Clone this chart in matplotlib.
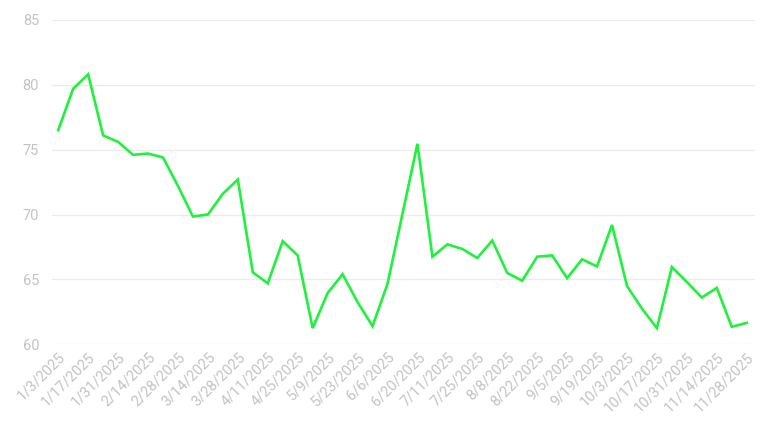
import matplotlib
matplotlib.use('Agg')
import matplotlib.pyplot as plt

plt.rcParams['font.family'] = ['Roboto', 'DejaVu Sans']

# weekly dates (no 7/4 entry)
dates = ['1/3/2025', '1/10/2025', '1/17/2025', '1/24/2025', '1/31/2025', '2/7/2025',
         '2/14/2025', '2/21/2025', '2/28/2025', '3/7/2025', '3/14/2025', '3/21/2025',
         '3/28/2025', '4/4/2025', '4/11/2025', '4/18/2025', '4/25/2025', '5/2/2025',
         '5/9/2025', '5/16/2025', '5/23/2025', '5/30/2025', '6/6/2025', '6/13/2025',
         '6/20/2025', '6/27/2025', '7/11/2025', '7/18/2025', '7/25/2025', '8/1/2025',
         '8/8/2025', '8/15/2025', '8/22/2025', '8/29/2025', '9/5/2025', '9/12/2025',
         '9/19/2025', '9/26/2025', '10/3/2025', '10/10/2025', '10/17/2025', '10/24/2025',
         '10/31/2025', '11/7/2025', '11/14/2025', '11/21/2025', '11/28/2025']

values = [76.5, 79.7, 80.8, 76.1, 75.6, 74.6, 74.7, 74.4, 72.2, 69.85,
          70.0, 71.6, 72.7, 65.55, 64.7, 67.95, 66.85, 61.25, 63.95, 65.4,
          63.25, 61.4, 64.65, 70.05, 75.45, 66.75, 67.7, 67.35, 66.65, 68.0,
          65.5, 64.9, 66.75, 66.85, 65.1, 66.55, 66.0, 69.2, 64.5, 62.75,
          61.25, 65.95, 64.8, 63.6, 64.35, 61.35, 61.65]

yticks = [60, 65, 70, 75, 80, 85]

fig = plt.figure(figsize=(7.68, 4.32), dpi=100)
ax = fig.add_axes([0.068, 0.203, 0.915, 0.751])

x = list(range(len(dates)))
ax.plot(x, values, color='#1ef23c', linewidth=1.9, solid_joinstyle='miter')

ax.set_xlim(-0.4, len(dates) - 0.45)
ax.set_ylim(60, 85)
ax.set_yticks(yticks)
ax.set_xticks(x[::2])
ax.set_xticklabels(dates[::2], rotation=45, ha='right', rotation_mode='anchor')

ax.grid(axis='y', color='#ebebeb', linewidth=0.9)
ax.set_axisbelow(True)
for s in ax.spines.values():
    s.set_visible(False)
ax.tick_params(length=0, colors='#c3c3c3', labelsize=10.5)
ax.tick_params(axis='y', pad=9.5)
ax.tick_params(axis='x', pad=4)

fig.savefig('out.png', dpi=100)
plt.close()
